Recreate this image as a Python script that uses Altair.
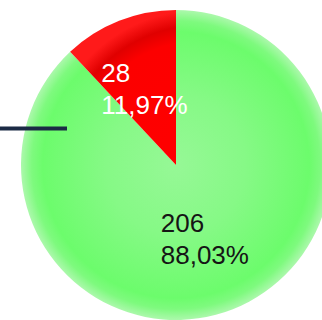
import altair as alt
import pandas as pd

# Slice data
categories = ["OK", "NOK"]
values = [206, 28]
slice_order = [0, 1]
text_colors = ["#151515", "#ffffff"]

total = sum(values)
labels = [
    f"{v}\n" + f"{v / total * 100:.2f}".replace(".", ",") + "%"
    for v in values
]

df = pd.DataFrame({
    "cat": categories,
    "value": values,
    "order": slice_order,
    "label": labels,
    "tcolor": text_colors,
})

# Shaded fills for the two slices
green_fill = {
    "gradient": "radial",
    "x1": 0.5, "y1": 0.5, "r1": 0,
    "x2": 0.5, "y2": 0.5, "r2": 0.5,
    "stops": [
        {"offset": 0.0, "color": "#96f896"},
        {"offset": 0.45, "color": "#86f986"},
        {"offset": 0.86, "color": "#6cfc6c"},
        {"offset": 0.93, "color": "#7efa7e"},
        {"offset": 1.0, "color": "#acf8ac"},
    ],
}
red_fill = {
    "gradient": "radial",
    "x1": 1.0, "y1": 1.0, "r1": 0,
    "x2": 1.0, "y2": 1.0, "r2": 1.0,
    "stops": [
        {"offset": 0.0, "color": "#ff0000"},
        {"offset": 0.8, "color": "#fc0000"},
        {"offset": 0.9, "color": "#e00000"},
        {"offset": 1.0, "color": "#ff1a1a"},
    ],
}

cx, cy, r = 176, 165, 155

base = alt.Chart(df).encode(
    theta=alt.Theta("value:Q", stack=True),
    order=alt.Order("order:Q"),
    x=alt.value(cx),
    y=alt.value(cy),
)

pie = base.mark_arc(radius=r).encode(
    color=alt.condition(
        alt.datum.cat == "OK", alt.value(green_fill), alt.value(red_fill)
    )
)

text = base.mark_text(
    radius=81,
    align="left",
    baseline="middle",
    dx=-45,
    dy=-16,
    lineBreak="\n",
    lineHeight=32,
    font="Liberation Sans",
    fontSize=26,
).encode(
    text="label:N",
    color=alt.Color("tcolor:N", scale=None),
)

rule = alt.Chart(pd.DataFrame({"k": [0]})).mark_rule(
    color="#1b2a45", strokeWidth=4
).encode(x=alt.value(0), x2=alt.value(67), y=alt.value(128.5))

chart = (
    alt.layer(pie, text, rule)
    .properties(width=322, height=320, padding=0, autosize="none")
    .configure_view(stroke=None)
)

chart.save("out.html", embed_options={"renderer": "svg", "actions": False})
